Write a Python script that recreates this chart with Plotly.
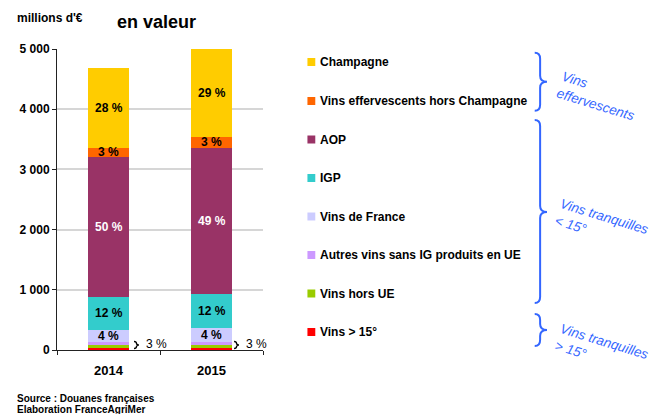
import plotly.graph_objects as go

# ---------------- data ----------------
years = ["2014", "2015"]
# stacked from bottom to top
series_names = [
    "Vins > 15°",
    "Vins hors UE",
    "Autres vins sans IG produits en UE",
    "Vins de France",
    "IGP",
    "AOP",
    "Vins effervescents hors Champagne",
    "Champagne",
]
series_values = [
    [30, 30],
    [55, 55],
    [55, 55],
    [195, 220],
    [545, 575],
    [2330, 2425],
    [150, 175],
    [1330, 1465],
]
series_colors = ["#FF0000", "#99CC00", "#CC99FF", "#CCCCFF", "#33CCCC", "#993366", "#FF6600", "#FFCC00"]
pct_labels = [
    ["", ""],
    ["", ""],
    ["", ""],
    ["4 %", "4 %"],
    ["12 %", "12 %"],
    ["50 %", "49 %"],
    ["3 %", "3 %"],
    ["28 %", "29 %"],
]
small_group_label = "3 %"
y_tickvals = [0, 1000, 2000, 3000, 4000, 5000]
y_ticktext = ["0", "1 000", "2 000", "3 000", "4 000", "5 000"]

FONT = "Liberation Sans, Arial, sans-serif"
BLUE = "#3366FF"

# page offset (browser body margin) compensation
OFF = 8
W, H = 657, 414
L, R, T, B = 53 - OFF, 263 - OFF, 49 - OFF, 350 - OFF


def px(xp):
    return (xp - OFF - L) / (R - L)


def py(yp):
    return (B - (yp - OFF)) / (B - T)


fig = go.Figure()
for name, vals, col in zip(series_names, series_values, series_colors):
    fig.add_trace(go.Bar(x=years, y=vals, name=name, marker=dict(color=col, line=dict(width=0)),
                         width=0.4, showlegend=False, hoverinfo="x+y+name"))

annotations = []
# percentage labels in segments (x given as category index)
for si, (vals, labs) in enumerate(zip(series_values, pct_labels)):
    for yi, yr in enumerate(years):
        base = sum(series_values[k][yi] for k in range(si))
        if labs[yi]:
            annotations.append(dict(
                x=yi, y=base + vals[yi] / 2, xref="x", yref="y", text=labs[yi], showarrow=False,
                font=dict(family=FONT, size=12, weight="bold",
                          color="white" if series_names[si] == "AOP" else "black"),
                xanchor="center", yanchor="middle"))

shapes = []


def brace_path(xl, xs, xt, ytop, ybot, ymid, r=5):
    pts = [
        f"M {px(xl)},{py(ytop)}",
        f"Q {px(xs)},{py(ytop)} {px(xs)},{py(ytop + r)}",
        f"L {px(xs)},{py(ymid - r)}",
        f"Q {px(xs)},{py(ymid)} {px(xt)},{py(ymid)}",
        f"Q {px(xs)},{py(ymid)} {px(xs)},{py(ymid + r)}",
        f"L {px(xs)},{py(ybot - r)}",
        f"Q {px(xs)},{py(ybot)} {px(xl)},{py(ybot)}",
    ]
    return " ".join(pts)


# small braces next to bars for the bottom three series
for xl, lx in [(131.5, 154), (233.5, 256)]:
    shapes.append(dict(type="path", xref="paper", yref="paper",
                       path=brace_path(xl, xl + 2.5, xl + 5, 341.5, 348.5, 345, r=2),
                       line=dict(color="black", width=1.3)))
    annotations.append(dict(x=px(lx), y=py(344), xref="paper", yref="paper", text=small_group_label,
                            showarrow=False, font=dict(family=FONT, size=12, color="black"),
                            xanchor="center", yanchor="middle"))

# legend (manual)
leg_y = [62, 101, 139.5, 178, 216.5, 255, 293.5, 332]
for yy, name, col in zip(leg_y, series_names[::-1], series_colors[::-1]):
    shapes.append(dict(type="rect", xref="paper", yref="paper",
                       x0=px(308.3), x1=px(316.3), y0=py(yy - 4), y1=py(yy + 4),
                       fillcolor=col, line=dict(width=0)))
    annotations.append(dict(x=px(319), y=py(yy), xref="paper", yref="paper", text=name,
                            showarrow=False, font=dict(family=FONT, size=12, weight="bold", color="black"),
                            xanchor="left", yanchor="middle"))

# big braces
for ytop, ybot, ymid in [(52.7, 110.7, 81.7), (120, 303, 212), (314, 346, 330)]:
    shapes.append(dict(type="path", xref="paper", yref="paper",
                       path=brace_path(540, 545.5, 552.5, ytop, ybot, ymid, r=6),
                       line=dict(color=BLUE, width=2)))

group_texts = [("Vins<br>effervescents", 605, 96), ("Vins tranquilles<br>< 15°", 609, 225),
               ("Vins tranquilles<br>> 15°", 609, 350)]
for txt, cx, cy in group_texts:
    annotations.append(dict(x=px(cx), y=py(cy), xref="paper", yref="paper", text=txt, showarrow=False,
                            textangle=17, align="left",
                            font=dict(family=FONT, size=13.5, style="italic", color=BLUE),
                            xanchor="center", yanchor="middle"))

# titles and source
annotations.append(dict(x=px(46), y=py(18), xref="paper", yref="paper", text="millions d'€", showarrow=False,
                        font=dict(family=FONT, size=12, weight="bold", color="black"),
                        xanchor="center", yanchor="middle"))
annotations.append(dict(x=px(154), y=py(22), xref="paper", yref="paper", text="en valeur", showarrow=False,
                        font=dict(family=FONT, size=18, weight="bold", color="black"),
                        xanchor="center", yanchor="middle"))
annotations.append(dict(x=px(10), y=py(398), xref="paper", yref="paper", text="Source : Douanes françaises",
                        showarrow=False, font=dict(family=FONT, size=10, weight="bold", color="black"),
                        xanchor="left", yanchor="middle"))
annotations.append(dict(x=px(10), y=py(409), xref="paper", yref="paper", text="Elaboration FranceAgriMer",
                        showarrow=False, font=dict(family=FONT, size=10, weight="bold", color="black"),
                        xanchor="left", yanchor="middle"))

fig.update_layout(
    width=W, height=H,
    margin=dict(l=L, r=W - R, t=T, b=H - B, pad=0),
    barmode="stack",
    plot_bgcolor="white", paper_bgcolor="white",
    showlegend=False,
    shapes=shapes,
    annotations=annotations,
    font=dict(family=FONT, color="black"),
)
fig.update_xaxes(type="category", showline=True, linecolor="#222222", linewidth=1,
                 ticks="outside", ticklen=4, tickcolor="#222222", tickson="boundaries",
                 tickfont=dict(family=FONT, size=13, weight="bold", color="black"),
                 ticklabelstandoff=8, showgrid=False, range=[-0.5, 1.5])
fig.update_yaxes(range=[0, 5000], tickvals=y_tickvals, ticktext=y_ticktext,
                 showline=True, linecolor="#222222", linewidth=1,
                 ticks="outside", ticklen=4, tickcolor="#222222",
                 tickfont=dict(family=FONT, size=12, weight="bold", color="black"),
                 showgrid=True, gridcolor="#D6D6D6", gridwidth=2, zeroline=False)

fig.write_html("out.html")
